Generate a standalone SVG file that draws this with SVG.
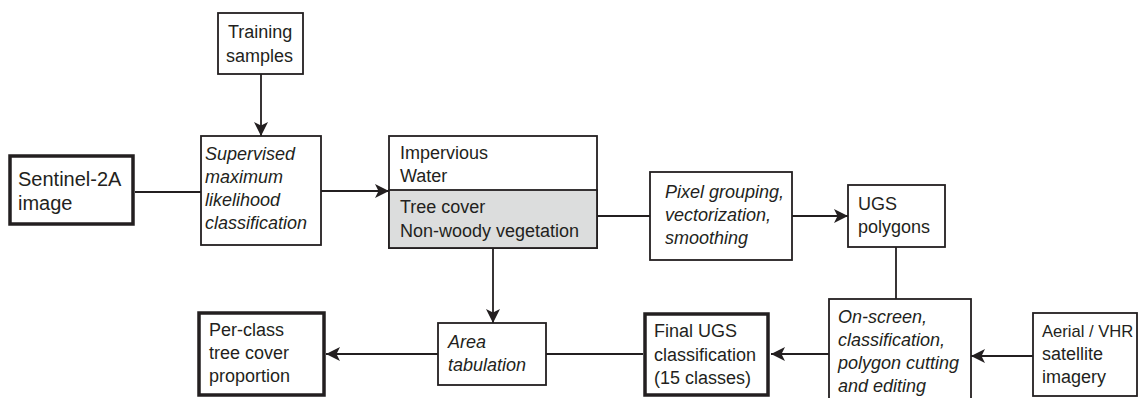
<svg xmlns="http://www.w3.org/2000/svg" width="1140" height="398" viewBox="0 0 1140 398">
<style>
.box{fill:#fff;stroke:#231f20;stroke-width:1.8}
.thick{fill:#fff;stroke:#231f20;stroke-width:3.5}
.gray{fill:#dcdddd;stroke:#231f20;stroke-width:1.8}
.t{font-family:"Liberation Sans",Arial,sans-serif;font-size:18px;fill:#231f20}
.i{font-style:italic}
.big{font-size:20px}
.c{fill:none;stroke:#231f20;stroke-width:1.8}
</style>
<defs>
<marker id="ah" markerUnits="userSpaceOnUse" markerWidth="15" markerHeight="15" viewBox="0 0 15 15" refX="14" refY="7.5" orient="auto">
<path d="M0,0.5 L14,7.5 L0,14.5 L3.5,7.5 Z" fill="#231f20"/>
</marker>
</defs>
<g id="connectors">
<line class="c" x1="261" y1="74" x2="261" y2="136" marker-end="url(#ah)"/>
<line class="c" x1="135" y1="192" x2="201" y2="192"/>
<line class="c" x1="321" y1="191" x2="389" y2="191" marker-end="url(#ah)"/>
<line class="c" x1="597" y1="216" x2="650" y2="216"/>
<line class="c" x1="792" y1="216" x2="848" y2="216" marker-end="url(#ah)"/>
<line class="c" x1="896" y1="247" x2="896" y2="299"/>
<line class="c" x1="1033" y1="356" x2="971" y2="356" marker-end="url(#ah)"/>
<line class="c" x1="829" y1="354" x2="771" y2="354" marker-end="url(#ah)"/>
<line class="c" x1="643" y1="354" x2="546" y2="354"/>
<line class="c" x1="493" y1="248" x2="493" y2="323" marker-end="url(#ah)"/>
<line class="c" x1="438" y1="354" x2="326" y2="354" marker-end="url(#ah)"/>
</g>
<g id="training">
<rect class="box" x="218" y="13" width="85" height="61"/>
<text class="t" x="228" y="38">Training</text>
<text class="t" x="226" y="62">samples</text>
</g>
<g id="sentinel">
<rect class="thick" x="10" y="156" width="123" height="68"/>
<text class="t big" x="18" y="186">Sentinel-2A</text>
<text class="t big" x="18" y="210">image</text>
</g>
<g id="supervised">
<rect class="box" x="201" y="136" width="120" height="109"/>
<text class="t i" x="205" y="160">Supervised</text>
<text class="t i" x="205" y="183">maximum</text>
<text class="t i" x="205" y="206">likelihood</text>
<text class="t i" x="205" y="229">classification</text>
</g>
<g id="classes">
<rect class="box" x="389" y="136" width="208" height="112"/>
<rect class="gray" x="389" y="190" width="208" height="58"/>
<text class="t" x="400" y="159">Impervious</text>
<text class="t" x="400" y="182">Water</text>
<text class="t" x="400" y="213">Tree cover</text>
<text class="t" x="400" y="237">Non-woody vegetation</text>
</g>
<g id="pixel">
<rect class="box" x="650" y="172" width="142" height="88"/>
<text class="t i" x="665" y="198">Pixel grouping,</text>
<text class="t i" x="665" y="221">vectorization,</text>
<text class="t i" x="665" y="244">smoothing</text>
</g>
<g id="ugs">
<rect class="box" x="848" y="185" width="97" height="62"/>
<text class="t" x="858" y="210">UGS</text>
<text class="t" x="858" y="233">polygons</text>
</g>
<g id="onscreen">
<rect class="box" x="829" y="299" width="142" height="110"/>
<text class="t i" x="838" y="323">On-screen,</text>
<text class="t i" x="838" y="346">classification,</text>
<text class="t i" x="838" y="369">polygon cutting</text>
<text class="t i" x="838" y="392">and editing</text>
</g>
<g id="aerial">
<rect class="box" x="1033" y="313" width="104" height="83"/>
<text class="t" x="1042" y="337" style="font-size:16.6px">Aerial / VHR</text>
<text class="t" x="1042" y="360">satellite</text>
<text class="t" x="1042" y="383">imagery</text>
</g>
<g id="final">
<rect class="thick" x="645" y="314" width="123" height="81"/>
<text class="t" x="654" y="337">Final UGS</text>
<text class="t" x="654" y="361">classification</text>
<text class="t" x="654" y="384">(15 classes)</text>
</g>
<g id="area">
<rect class="box" x="438" y="323" width="108" height="62"/>
<text class="t i" x="448" y="348">Area</text>
<text class="t i" x="448" y="371">tabulation</text>
</g>
<g id="perclass">
<rect class="thick" x="199" y="313" width="125" height="82"/>
<text class="t" x="209" y="336">Per-class</text>
<text class="t" x="209" y="359">tree cover</text>
<text class="t" x="209" y="382">proportion</text>
</g>
</svg>
